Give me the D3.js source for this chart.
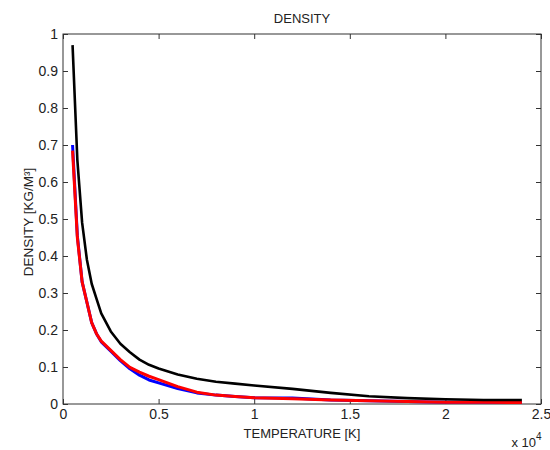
<!DOCTYPE html>
<html lang="en">
<head>
<meta charset="utf-8">
<title>Density</title>
<script src="https://cdn.jsdelivr.net/npm/d3@7"></script>
<style>
    body { margin: 0; background: #fff; }
    svg { font-family: "Liberation Sans", Arial, sans-serif; }
    .domain { display: none; }
    .tick line { stroke: #333; }
    .tick text { fill: #222; font-size: 14px; }
</style>
</head>
<body>
<div id="chart"></div>
<script>
    // temperature grid [K] and the three density curves [kg/m^3]
    const temperature = [500, 750, 1000, 1250, 1500, 1750, 2000, 2500, 3000, 3500, 4000, 4500, 5000,
                         6000, 7000, 8000, 9000, 10000, 12000, 14000, 16000, 18000, 20000, 22000, 24000];
    const densityBlack = [0.97, 0.66, 0.49, 0.39, 0.325, 0.285, 0.245, 0.196, 0.163, 0.14, 0.12, 0.106, 0.096,
                          0.08, 0.068, 0.06, 0.055, 0.05, 0.041, 0.03, 0.021, 0.016, 0.013, 0.011, 0.011];
    const densityBlue = [0.70, 0.455, 0.33, 0.275, 0.22, 0.19, 0.168, 0.143, 0.117, 0.095, 0.078, 0.065, 0.057,
                         0.042, 0.03, 0.024, 0.02, 0.017, 0.016, 0.011, 0.009, 0.007, 0.005, 0.005, 0.004];
    const densityRed = [0.685, 0.45, 0.33, 0.275, 0.22, 0.19, 0.17, 0.145, 0.12, 0.099, 0.086, 0.075, 0.066,
                        0.047, 0.032, 0.024, 0.02, 0.017, 0.014, 0.011, 0.009, 0.007, 0.005, 0.005, 0.004];
    const xTicks = [0, 5000, 10000, 15000, 20000, 25000];
    const yTicks = [0, 0.1, 0.2, 0.3, 0.4, 0.5, 0.6, 0.7, 0.8, 0.9, 1];

    const width = 550, height = 450;
    const plotL = 63, plotR = 541, plotT = 34, plotB = 404;

    const svg = d3.select("#chart").append("svg")
        .attr("width", width)
        .attr("height", height);

    const x = d3.scaleLinear().domain([0, 25000]).range([plotL, plotR]);
    const y = d3.scaleLinear().domain([0, 1]).range([plotB, plotT]);

    // box
    svg.append("rect")
        .attr("x", plotL).attr("y", plotT)
        .attr("width", plotR - plotL).attr("height", plotB - plotT)
        .attr("fill", "none").attr("stroke", "#333");

    // axes with ticks pointing inwards (matlab style)
    svg.append("g")
        .attr("transform", "translate(0," + plotB + ")")
        .call(d3.axisBottom(x).tickValues(xTicks).tickSizeInner(-5).tickSizeOuter(0).tickPadding(5)
            .tickFormat(d => d3.format("~g")(d / 1e4)));
    svg.append("g")
        .attr("transform", "translate(0," + plotT + ")")
        .call(d3.axisTop(x).tickValues(xTicks).tickSizeInner(-5).tickSizeOuter(0).tickFormat(""));
    svg.append("g")
        .attr("transform", "translate(" + plotL + ",0)")
        .call(d3.axisLeft(y).tickValues(yTicks).tickSizeInner(-5).tickSizeOuter(0).tickPadding(5)
            .tickFormat(d3.format("~g")));
    svg.append("g")
        .attr("transform", "translate(" + plotR + ",0)")
        .call(d3.axisRight(y).tickValues(yTicks).tickSizeInner(-5).tickSizeOuter(0).tickFormat(""));

    const line = d3.line()
        .x((d, i) => x(temperature[i]))
        .y(d => y(d));

    const series = [
        { values: densityBlue, color: "#0000ff", w: 3 },
        { values: densityRed, color: "#ff0000", w: 3 },
        { values: densityBlack, color: "#000000", w: 2.6 }
    ];

    svg.selectAll(".curve")
        .data(series)
        .enter()
        .append("path")
        .attr("class", "curve")
        .attr("d", d => line(d.values))
        .attr("fill", "none")
        .attr("stroke", d => d.color)
        .attr("stroke-width", d => d.w)
        .attr("stroke-linejoin", "round");

    // labels
    svg.append("text")
        .attr("x", (plotL + plotR) / 2).attr("y", 23)
        .attr("text-anchor", "middle").attr("font-size", 13).attr("fill", "#222")
        .text("DENSITY");

    svg.append("text")
        .attr("x", (plotL + plotR) / 2).attr("y", 438)
        .attr("text-anchor", "middle").attr("font-size", 13).attr("fill", "#222")
        .text("TEMPERATURE [K]");

    svg.append("text")
        .attr("transform", "translate(33," + ((plotT + plotB) / 2 + 3) + ") rotate(-90)")
        .attr("text-anchor", "middle").attr("font-size", 13.5).attr("fill", "#222")
        .text("DENSITY [KG/M³]");

    svg.append("text")
        .attr("x", 536).attr("y", 447)
        .attr("text-anchor", "end").attr("font-size", 13).attr("fill", "#222")
        .text("x 10");
    svg.append("text")
        .attr("x", 536).attr("y", 440)
        .attr("font-size", 10).attr("fill", "#222")
        .text("4");
</script>
</body>
</html>
